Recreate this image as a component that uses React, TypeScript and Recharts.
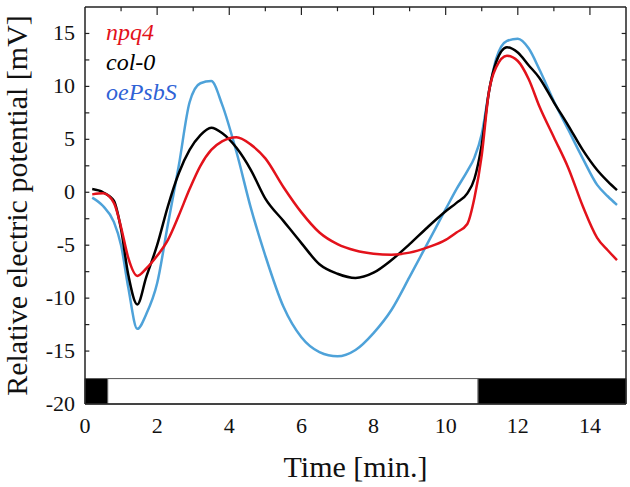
import { LineChart, Line, XAxis, YAxis, ReferenceArea, ReferenceLine, Legend, Label } from "recharts";

const time = [
  0.2, 0.5, 0.8, 1.0, 1.2, 1.45, 1.7, 2.0, 2.3, 2.6, 2.9, 3.2, 3.5, 3.8, 4.2, 4.6, 5.0, 5.5, 6.0, 6.5, 7.0,
  7.5, 8.0, 8.5, 9.0, 9.5, 10.0, 10.3, 10.6, 10.8, 11.0, 11.2, 11.4, 11.7, 12.0, 12.3, 12.6, 13.0, 13.4,
  13.8, 14.2, 14.5, 14.75,
];
const npq4 = [
  -0.2, -0.1, -1.0, -3.3, -6.2, -7.9, -7.2, -6.0, -4.5, -2.2, 0.3, 2.5, 4.0, 4.8, 5.2, 4.5, 3.2, 0.5, -1.9,
  -3.8, -4.9, -5.5, -5.8, -5.9, -5.7, -5.2, -4.5, -3.8, -3.0, -0.5, 3.5, 9.5, 11.8, 12.9, 12.4, 10.7, 8.1,
  5.2, 2.3, -1.3, -4.3, -5.5, -6.4,
];
const col0 = [
  0.3, 0.0, -0.8, -3.5, -7.8, -10.6, -8.0, -5.0, -1.3, 1.8, 4.0, 5.4, 6.1, 5.6, 4.2, 2.1, -0.6, -2.7, -4.8,
  -6.8, -7.7, -8.1, -7.6, -6.4, -4.9, -3.3, -1.8, -1.0, -0.1, 1.3, 4.5, 9.5, 12.3, 13.7, 13.2, 12.0, 10.8,
  8.5, 6.3, 4.0, 2.1, 1.0, 0.2,
];
const oePsbS = [
  -0.5, -1.3, -2.8, -5.0, -9.0, -12.9, -11.5, -8.6, -3.0, 2.5, 8.5, 10.3, 10.5, 8.3, 3.8, -1.5, -6.0, -10.8,
  -13.7, -15.1, -15.5, -14.9, -13.3, -11.1, -8.0, -4.8, -1.6, 0.3, 2.0, 3.3, 5.5, 9.5, 12.6, 14.3, 14.5,
  13.6, 11.6, 8.6, 5.9, 3.2, 0.7, -0.4, -1.2,
];

const xDomain = [0, 15];
const yDomain = [-20, 17.5];
const xTicks = [0, 2, 4, 6, 8, 10, 12, 14];
const xAllTicks = [1, 2, 3, 4, 5, 6, 7, 8, 9, 10, 11, 12, 13, 14];
const yTicks = [-20, -15, -10, -5, 0, 5, 10, 15];
const yMinorTicks = [-15, -12.5, -10, -7.5, -5, -2.5, 0, 2.5, 5, 7.5, 10, 12.5, 15];
// inward tick lengths, in axis units
const topTickLen = { major: 0.75, minor: 0.4 };
const sideTickLen = 0.12;

// light regime bar along the bottom: dark / light / dark
const lightBar = [
  { start: 0, end: 0.63, dark: true },
  { start: 0.63, end: 10.9, dark: false },
  { start: 10.9, end: 15, dark: true },
];
const barRange = [-20, -17.6];

const series = [
  { key: "oePsbS", name: "oePsbS", color: "#4ea2d9", text: "#2f62d6" },
  { key: "col0", name: "col-0", color: "#000000", text: "#000000" },
  { key: "npq4", name: "npq4", color: "#e3121b", text: "#e3121b" },
];
const legendOrder = ["npq4", "col0", "oePsbS"];

const data = time.map((t, i) => ({ t, npq4: npq4[i], col0: col0[i], oePsbS: oePsbS[i] }));

const font = "'Liberation Serif', serif";
const axisStroke = { stroke: "#222", strokeWidth: 1.5 };

const XTick = (props: any) => (
  <text x={props.x} y={props.y + 14} textAnchor="middle" fontSize={22} fontFamily={font} fill="#111">
    {props.payload.value}
  </text>
);

const YTick = (props: any) => (
  <text x={props.x} y={props.y + 7} textAnchor="end" fontSize={22} fontFamily={font} fill="#111">
    {props.payload.value}
  </text>
);

const XTitle = (props: any) => {
  const vb = props.viewBox;
  return (
    <text x={vb.x + vb.width / 2} y={vb.y + vb.height - 10} textAnchor="middle" fontSize={30} fontFamily={font} fill="#111">
      Time [min.]
    </text>
  );
};

const YTitle = (props: any) => {
  const vb = props.viewBox;
  const cx = 27;
  const cy = vb.y + vb.height / 2;
  return (
    <text x={cx} y={cy} transform={`rotate(-90 ${cx} ${cy})`} textAnchor="middle" fontSize={30} fontFamily={font} fill="#111">
      Relative electric potential [mV]
    </text>
  );
};

const LegendBox = () => (
  <div className="legend-box">
    {legendOrder.map((k) => {
      const s = series.find((x) => x.key === k)!;
      return (
        <div key={k} style={{ color: s.text }}>
          {s.name}
        </div>
      );
    })}
  </div>
);

export default function App() {
  const ids = { xAxisId: "main", yAxisId: "main" };
  return (
    <div style={{ position: "absolute", left: 0, top: 0, background: "#fff" }}>
      <style>{`.legend-box, .legend-box div { font-family: 'Liberation Serif', serif; font-style: italic; font-size: 24px; line-height: 30px; }`}</style>
      <LineChart width={630} height={487} data={data} margin={{ top: 7, right: 4, left: 0, bottom: 0 }}>
        <XAxis
          xAxisId="main"
          dataKey="t"
          type="number"
          domain={xDomain}
          ticks={xTicks}
          height={83}
          tickSize={0}
          tickMargin={15}
          tickLine={false}
          axisLine={axisStroke}
          tick={XTick}
          allowDataOverflow
        >
          <Label content={XTitle} />
        </XAxis>
        <XAxis xAxisId="top" orientation="top" mirror type="number" domain={xDomain} tick={false} tickLine={false} axisLine={axisStroke} />
        <YAxis
          yAxisId="main"
          type="number"
          domain={yDomain}
          ticks={yTicks}
          width={85}
          tickSize={0}
          tickMargin={10}
          tickLine={false}
          axisLine={axisStroke}
          tick={YTick}
          allowDataOverflow
        >
          <Label content={YTitle} />
        </YAxis>
        <YAxis yAxisId="right" orientation="right" mirror type="number" domain={yDomain} tick={false} tickLine={false} axisLine={axisStroke} />
        {xAllTicks.map((t) => (
          <ReferenceLine
            key={`tt${t}`}
            {...ids}
            segment={[
              { x: t, y: yDomain[1] },
              { x: t, y: yDomain[1] - (t % 2 === 0 ? topTickLen.major : topTickLen.minor) },
            ]}
            stroke="#222"
            strokeWidth={1.2}
          />
        ))}
        {yMinorTicks.map((v) => (
          <ReferenceLine
            key={`lt${v}`}
            {...ids}
            segment={[
              { x: xDomain[0], y: v },
              { x: xDomain[0] + sideTickLen, y: v },
            ]}
            stroke="#222"
            strokeWidth={1.2}
          />
        ))}
        {yMinorTicks.map((v) => (
          <ReferenceLine
            key={`rt${v}`}
            {...ids}
            segment={[
              { x: xDomain[1] - sideTickLen, y: v },
              { x: xDomain[1], y: v },
            ]}
            stroke="#222"
            strokeWidth={1.2}
          />
        ))}
        {lightBar.map((b, i) => (
          <ReferenceArea
            key={i}
            {...ids}
            x1={b.start}
            x2={b.end}
            y1={barRange[0]}
            y2={barRange[1]}
            fill={b.dark ? "#000" : "#fff"}
            fillOpacity={1}
            stroke="#555"
            strokeWidth={1}
          />
        ))}
        {series.map((s) => (
          <Line
            key={s.key}
            {...ids}
            type="monotone"
            dataKey={s.key}
            name={s.name}
            stroke={s.color}
            strokeWidth={2.5}
            dot={false}
            isAnimationActive={false}
          />
        ))}
        <Legend
          layout="vertical"
          align="center"
          verticalAlign="middle"
          wrapperStyle={{ left: 106, top: 17, width: "auto", height: "auto" }}
          content={LegendBox}
        />
      </LineChart>
    </div>
  );
}
